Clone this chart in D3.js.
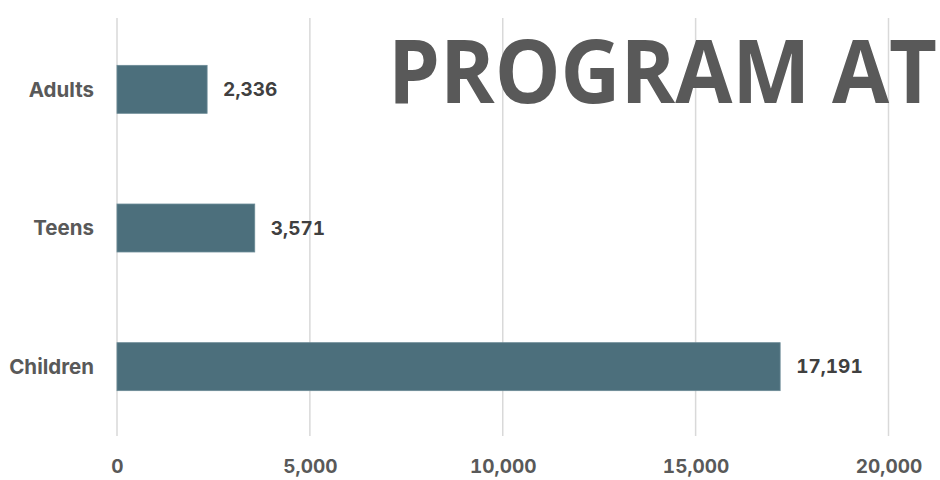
<!DOCTYPE html>
<html>
<head>
<meta charset="utf-8">
<script src="https://cdn.jsdelivr.net/npm/d3@7"></script>
<style>
  body { margin: 0; background: #fff; }
  svg { display: block; }
  .num { font-feature-settings: "tnum"; }
</style>
</head>
<body>
<div id="chart"></div>
<script>
const categories = ["Adults", "Teens", "Children"];
const values = [2336, 3571, 17191];
const ticks = [0, 5000, 10000, 15000, 20000];
const title = "PROGRAM AT";

const width = 940, height = 480;
const labelFont = "Inter, 'Liberation Sans', sans-serif";

const svg = d3.select("#chart")
  .append("svg")
  .attr("width", width)
  .attr("height", height);

let x = d3.scaleLinear()
  .domain([0, 20000])
  .range([117, 888.5]);

let y = d3.scaleBand()
  .domain(categories)
  .range([20, 436])
  .paddingInner(0.654)
  .paddingOuter(0.327);

// gridlines
svg.append("g")
  .selectAll("line")
  .data(ticks)
  .enter()
  .append("line")
  .attr("x1", d => x(d))
  .attr("x2", d => x(d))
  .attr("y1", 18)
  .attr("y2", 436)
  .attr("stroke", "#d9d9d9")
  .attr("stroke-width", 1.5);

// title, squeezed to the width it takes in the original
svg.append("text")
  .attr("x", 388)
  .attr("y", 103)
  .attr("font-family", "'Open Sans', sans-serif")
  .attr("font-weight", 700)
  .attr("font-size", 88)
  .attr("fill", "#595959")
  .attr("textLength", 549)
  .attr("lengthAdjust", "spacingAndGlyphs")
  .text(title);

// bars
svg.append("g")
  .selectAll("rect")
  .data(values)
  .enter()
  .append("rect")
  .attr("x", x(0))
  .attr("y", (d, i) => y(categories[i]))
  .attr("width", d => x(d) - x(0))
  .attr("height", y.bandwidth())
  .attr("fill", "#4c6f7c")
  .attr("stroke", "#6a8a96")
  .attr("stroke-width", 0.8);

// value labels
svg.append("g")
  .selectAll("text")
  .data(values)
  .enter()
  .append("text")
  .attr("class", "num")
  .attr("x", d => x(d) + 16)
  .attr("y", (d, i) => y(categories[i]) + y.bandwidth() / 2)
  .attr("dy", "0.35em")
  .attr("font-family", labelFont)
  .attr("font-weight", 700)
  .attr("font-size", 19)
  .attr("fill", "#404040")
  .text(d => d3.format(",")(d));

// category axis
svg.append("g")
  .selectAll("text")
  .data(categories)
  .enter()
  .append("text")
  .attr("x", 94)
  .attr("y", d => y(d) + y.bandwidth() / 2)
  .attr("dy", "0.35em")
  .attr("text-anchor", "end")
  .attr("font-family", labelFont)
  .attr("font-weight", 700)
  .attr("font-size", 20.5)
  .attr("fill", "#595959")
  .text(d => d);

// value axis
const xAxis = svg.append("g")
  .attr("transform", "translate(0,466)")
  .call(d3.axisBottom(x).tickValues(ticks).tickFormat(d3.format(",")).tickSize(0).tickPadding(0));

xAxis.select(".domain").remove();
xAxis.selectAll("text")
  .attr("class", "num")
  .attr("dy", "0.35em")
  .attr("font-family", labelFont)
  .attr("font-weight", 700)
  .attr("font-size", 19)
  .attr("fill", "#595959");
</script>
</body>
</html>
